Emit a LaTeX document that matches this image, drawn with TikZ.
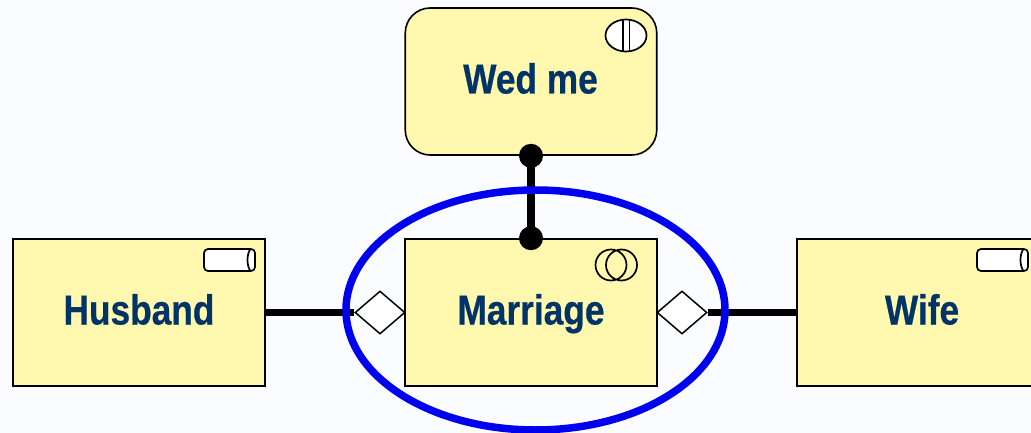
\documentclass[tikz,border=0pt]{standalone}
\usepackage{fontspec}
\setmainfont[FakeStretch=0.84,BoldFeatures={FakeBold=0.5}]{Liberation Sans}
\usetikzlibrary{shapes.geometric}
\definecolor{pagebg}{HTML}{FBFCFF}
\definecolor{boxfill}{HTML}{FFF8AE}
\definecolor{labelblue}{HTML}{003366}
\definecolor{ringblue}{HTML}{0000F0}
\tikzset{
  box/.style={draw=black,line width=1.6pt,fill=boxfill,minimum width=251.5pt,minimum height=147pt,inner sep=0pt,anchor=center},
  lbl/.style={text=labelblue,font=\bfseries\fontsize{42}{46}\selectfont,inner sep=0pt,anchor=base},
  joint/.style={line width=7.5pt,black},
  dot/.style={circle,fill=black,minimum size=24pt,inner sep=0pt},
  agg/.style={diamond,draw=black,line width=1.5pt,fill=white,aspect=1.16,minimum width=50pt,minimum height=43pt,inner sep=0pt},
  icon/.style={draw=black,line width=1.7pt,fill=white},
  cyl/.pic={
    \draw[icon,rounded corners=4pt] (-25.5,-11) rectangle (25.5,11);
    \draw[icon,fill=none] (21,-11) .. controls (17,-6) and (17,6) .. (21,11);
  }
}
\begin{document}
\begin{tikzpicture}[x=1pt,y=-1pt]
\clip (0,0) rectangle (1031,433);
\fill[pagebg] (0,0) rectangle (1031,433);
\node[box,rounded corners=25pt] (wed) at (531,81.5) {};
\node[box] (marriage) at (531,312.5) {};
\node[box] (husband) at (139,312.5) {};
\node[box] (wife) at (923,312.5) {};
\node[lbl] (twed) at (530.5,93.5) {Wed me};
\node[lbl] (tmar) at (531,324.5) {Marriage};
\node[lbl] (thus) at (139,324.5) {Husband};
\node[lbl] (twif) at (922,324.5) {Wife};
\node[agg] (dl) at (380,312.5) {};
\node[agg] (dr) at (682,312.5) {};
\node[dot] (dtop) at (wed.south) {};
\node[dot] (dbot) at (marriage.north) {};
\draw[joint] (husband.east) -- (dl.west);
\draw[joint] (wife.west) -- (dr.east);
\draw[joint] (dtop.center) -- (dbot.center);
\draw[icon] (626,35.5) ellipse [x radius=20.5,y radius=16];
\draw[icon] (623,19.8) -- (623,51.2) (629.5,19.8) -- (629.5,51.2);
\draw[black,line width=1.7pt] (611,265) circle [radius=15.5] (621.5,265) circle [radius=15.5];
\pic at (229.5,260) {cyl};
\pic at (1002.5,260) {cyl};
\draw[ringblue,line width=7.5pt] (535.5,310) ellipse [x radius=189.5,y radius=120];
\end{tikzpicture}
\end{document}
